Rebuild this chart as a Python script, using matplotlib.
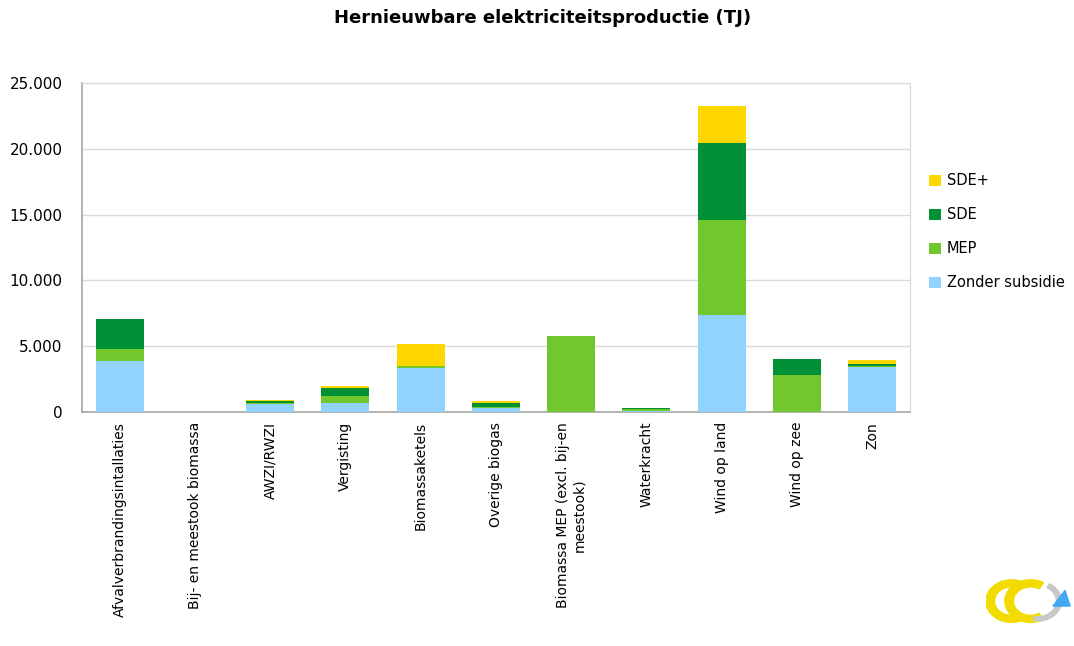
import matplotlib.pyplot as plt
import matplotlib.patches as mpatches
import numpy as np
from matplotlib.ticker import FuncFormatter

categories = ['Afvalverbrandingsintallaties', 'Bij- en meestook biomassa', 'AWZI/RWZI',
              'Vergisting', 'Biomassaketels', 'Overige biogas',
              'Biomassa MEP (excl. bij-en\nmeestook)', 'Waterkracht', 'Wind op land',
              'Wind op zee', 'Zon']
zonder = [3900, 0, 650, 710, 3370, 330, 0, 50, 7350, 0, 3440]
mep = [870, 0, 70, 480, 130, 30, 5750, 200, 7220, 2810, 60]
sde = [2280, 0, 100, 660, 0, 300, 0, 80, 5850, 1220, 150]
sde_plus = [0, 0, 80, 100, 1690, 200, 0, 0, 2830, 0, 300]

series = [('Zonder subsidie', zonder, '#8fd3fe'),
          ('MEP', mep, '#72c72f'),
          ('SDE', sde, '#009036'),
          ('SDE+', sde_plus, '#ffd700')]

plt.rcParams['font.family'] = ['DejaVu Sans']

fig = plt.figure(figsize=(10.74, 6.46), dpi=100)
ax = fig.add_axes([0.0764, 0.362, 0.7706, 0.5095])

x = np.arange(len(categories))
bottom = np.zeros(len(categories))
handles = []
for name, vals, col in series:
  vals = np.array(vals, dtype=float)
  b = ax.bar(x, vals, 0.64, bottom=bottom, color=col, label=name, zorder=3)
  bottom += vals
  handles.append(b)

ax.set_xlim(-0.5, len(categories) - 0.5)
ax.set_ylim(0, 25000)
ax.set_yticks(np.arange(0, 25001, 5000))
ax.yaxis.set_major_formatter(FuncFormatter(lambda v, p: f'{int(v):,}'.replace(',', '.')))
ax.grid(axis='y', color='#d9d9d9', linewidth=1, zorder=0)
ax.set_xticks(x)
ax.set_xticklabels(categories, rotation=90, fontsize=10, va='top', ha='center')
ax.tick_params(axis='both', length=0, pad=7)
ax.tick_params(axis='y', labelsize=11, pad=14)
for s in ['top', 'right']:
  ax.spines[s].set_color('#d9d9d9')
for s in ['left', 'bottom']:
  ax.spines[s].set_color('#a6a6a6')
  ax.spines[s].set_linewidth(1.2)

leg = fig.legend(handles[::-1], [s[0] for s in series][::-1], loc='upper left',
                 bbox_to_anchor=(0.853, 0.752), frameon=False, fontsize=10.5,
                 handlelength=0.8, handleheight=0.8, handletextpad=0.4, labelspacing=1.3)

fig.text(0.505, 0.972, 'Hernieuwbare elektriciteitsproductie (TJ)', ha='center', va='center',
         fontsize=13, fontweight='bold')

# rough sketch of the logo in the corner
lax = fig.add_axes([0.918, 0.02, 0.08, 0.11])
lax.set_xlim(0, 1)
lax.set_ylim(0, 1)
lax.axis('off')
lax.add_patch(mpatches.Wedge((0.3, 0.45), 0.3, 60, 300, width=0.1, color='#f2dc00'))
lax.add_patch(mpatches.Wedge((0.52, 0.45), 0.3, 60, 300, width=0.1, color='#f2dc00'))
lax.add_patch(mpatches.Wedge((0.6, 0.45), 0.28, -100, 60, width=0.06, color='#c8c8c8'))
lax.add_patch(mpatches.Polygon([[0.78, 0.38], [0.98, 0.38], [0.92, 0.6]], color='#3fa9f5'))

fig.savefig('out.png', dpi=100)
